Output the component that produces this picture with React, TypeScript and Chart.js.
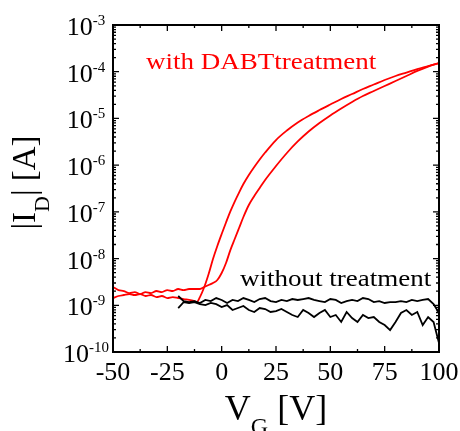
import React, { useEffect, useRef } from "react";
import { Chart, registerables } from "chart.js";

Chart.register(...registerables);

// ---- Data (V_G in volts, |I_D| in amperes) ----
const redAV = [
  -50, -47.5, -45, -42.5, -40, -37.5, -35, -32.5, -30, -27.5, -25, -22.5, -20, -17.5, -15, -12.5, -11.5,
  -10, -8, -6, -4, -2, 0, 2, 4, 6, 8, 10, 12.5, 15, 17.5, 20, 25, 30, 35, 40, 45, 50, 55, 60, 65, 70, 75,
  80, 85, 90, 95, 100,
];
const redAI = [
  1.43e-9, 1.58e-9, 1.66e-9, 1.74e-9, 1.66e-9, 1.74e-9, 1.58e-9, 1.66e-9, 1.5e-9, 1.58e-9, 1.43e-9, 1.5e-9,
  1.43e-9, 1.36e-9, 1.3e-9, 1.23e-9, 1.17e-9,
  1.5e-9, 2.46e-9, 4.67e-9, 9.77e-9, 1.86e-8, 3.36e-8, 5.92e-8, 1.02e-7, 1.66e-7, 2.59e-7, 3.94e-7, 6.15e-7,
  9.12e-7, 1.32e-6, 1.86e-6, 3.45e-6, 5.51e-6, 8.18e-6, 1.13e-5, 1.51e-5, 1.99e-5, 2.61e-5, 3.33e-5, 4.27e-5,
  5.32e-5, 6.65e-5, 8.1e-5, 9.61e-5, 1.14e-4, 1.32e-4, 1.53e-4,
];

const redBV = [
  -50, -47.5, -45, -42.5, -40, -37.5, -35, -32.5, -30, -27.5, -25, -22.5, -20, -17.5, -15, -12.5, -10,
  -8, -6, -4, -2, 0, 2, 4, 6, 8, 10, 12.5, 15, 17.5, 20, 25, 30, 35, 40, 45, 50, 55, 60, 65, 70, 75, 80,
  85, 90, 95, 100,
];
const redBI = [
  2.46e-9, 2.12e-9, 2.02e-9, 1.83e-9, 1.92e-9, 1.74e-9, 1.92e-9, 1.83e-9, 2.02e-9, 1.92e-9, 2.12e-9, 2.02e-9,
  2.23e-9, 2.12e-9, 2.23e-9, 2.23e-9, 2.23e-9,
  2.46e-9, 2.72e-9, 3.0e-9, 3.48e-9, 4.91e-9, 8.04e-9, 1.52e-8, 2.62e-8, 4.51e-8, 7.76e-8, 1.4e-7, 2.18e-7,
  3.24e-7, 4.81e-7, 9.57e-7, 1.82e-6, 3.21e-6, 5.25e-6, 7.98e-6, 1.16e-5, 1.63e-5, 2.25e-5, 3.02e-5,
  3.86e-5, 4.94e-5, 6.32e-5, 8.1e-5, 1.04e-4, 1.29e-4, 1.53e-4,
];

const blackV = [
  -20, -17.5, -15, -12.5, -10, -7.5, -5, -2.5, 0, 2.5, 5, 7.5, 10, 12.5, 15, 17.5, 20, 22.5, 25, 27.5, 30,
  32.5, 35, 37.5, 40, 42.5, 45, 47.5, 50, 52.5, 55, 57.5, 60, 62.5, 65, 67.5, 70, 72.5, 75, 77.5, 80, 82.5,
  85, 87.5, 90, 92.5, 95, 97.5, 100,
];
const blackUpperI = [
  1.58e-9, 1.23e-9, 1.17e-9, 1.23e-9, 1.12e-9, 1.3e-9, 1.23e-9, 1.43e-9, 1.3e-9, 1.12e-9, 1.3e-9, 1.23e-9,
  1.43e-9, 1.3e-9, 1.17e-9, 1.36e-9, 1.43e-9, 1.23e-9, 1.17e-9, 1.3e-9, 1.23e-9, 1.36e-9, 1.3e-9, 1.36e-9,
  1.43e-9, 1.3e-9, 1.23e-9, 1.17e-9, 1.36e-9, 1.3e-9, 1.12e-9, 1.23e-9, 1.3e-9, 1.23e-9, 1.43e-9, 1.36e-9,
  1.17e-9, 1.23e-9, 1.12e-9, 1.17e-9, 1.17e-9, 1.23e-9, 1.17e-9, 1.3e-9, 1.23e-9, 1.3e-9, 1.36e-9, 1.06e-9,
  6.83e-10,
];
const blackLowerI = [
  8.74e-10, 1.17e-9, 1.12e-9, 1.17e-9, 1.06e-9, 1.01e-9, 1.12e-9, 1.06e-9, 9.18e-10, 1.01e-9, 7.92e-10,
  8.74e-10, 9.64e-10, 7.92e-10, 7.18e-10, 8.74e-10, 8.32e-10, 7.18e-10, 7.54e-10, 8.32e-10, 7.18e-10,
  6.19e-10, 5.61e-10, 7.92e-10, 6.83e-10, 5.61e-10, 6.83e-10, 7.92e-10, 5.61e-10, 6.19e-10, 4.39e-10,
  7.18e-10, 5.34e-10, 4.39e-10, 6.19e-10, 5.34e-10, 5.61e-10, 4.39e-10, 3.78e-10, 2.95e-10, 4.39e-10,
  6.83e-10, 7.92e-10, 6.19e-10, 7.18e-10, 3.78e-10, 5.61e-10, 4.39e-10, 1.56e-10,
];

const xMajorTicks = [-50, -25, 0, 25, 50, 75, 100];
const xMinorTicks = [-37.5, -12.5, 12.5, 37.5, 62.5, 87.5];
const yExponents = [-3, -4, -5, -6, -7, -8, -9, -10];
const yMinorMultipliers = [2, 3, 4, 5, 6, 7, 8, 9];
const labelRed = "with DABTtreatment";
const labelBlack = "without treatment";

const FONT = '"Liberation Serif", "Times New Roman", serif';

function toPoints(v: number[], i: number[]) {
  return v.map((x, k) => ({ x, y: i[k] }));
}

const framePlugin = {
  id: "framePlugin",
  afterDraw(chart: any) {
    const { ctx, chartArea: a, scales } = chart;
    const xs = scales.x;
    const ys = scales.y;
    ctx.save();
    ctx.strokeStyle = "#000";
    ctx.fillStyle = "#000";

    // inward tick marks
    ctx.lineWidth = 1.3;
    ctx.beginPath();
    const vTick = (v: number, len: number) => {
      const px = xs.getPixelForValue(v);
      ctx.moveTo(px, a.bottom);
      ctx.lineTo(px, a.bottom - len);
      ctx.moveTo(px, a.top);
      ctx.lineTo(px, a.top + len);
    };
    const hTick = (val: number, len: number) => {
      const py = ys.getPixelForValue(val);
      ctx.moveTo(a.left, py);
      ctx.lineTo(a.left + len, py);
      ctx.moveTo(a.right, py);
      ctx.lineTo(a.right - len, py);
    };
    xMajorTicks.forEach((v) => vTick(v, 6));
    xMinorTicks.forEach((v) => vTick(v, 3));
    yExponents.forEach((e) => {
      hTick(Math.pow(10, e), 6);
      if (e > -10) {
        yMinorMultipliers.forEach((m) => hTick(m * Math.pow(10, e - 1), 3));
      }
    });
    ctx.stroke();

    // frame
    ctx.lineWidth = 2;
    ctx.strokeRect(a.left, a.top, a.right - a.left, a.bottom - a.top);

    // x tick labels
    ctx.font = `26px ${FONT}`;
    ctx.textAlign = "center";
    ctx.textBaseline = "alphabetic";
    xMajorTicks.forEach((v) => {
      ctx.fillText(String(v), xs.getPixelForValue(v), a.bottom + 28);
    });

    // y tick labels 10^e
    ctx.textAlign = "left";
    yExponents.forEach((e) => {
      const py = ys.getPixelForValue(Math.pow(10, e));
      ctx.font = `26px ${FONT}`;
      const wb = ctx.measureText("10").width;
      ctx.font = `15px ${FONT}`;
      const sup = String(e);
      const ws = ctx.measureText(sup).width;
      const start = 86 - (wb + ws) / 2;
      ctx.font = `26px ${FONT}`;
      ctx.fillText("10", start, py + 10);
      ctx.font = `15px ${FONT}`;
      ctx.fillText(sup, start + wb, py);
    });

    // x title: V_G [V]
    {
      const baseY = 420;
      ctx.font = `36px ${FONT}`;
      const w1 = ctx.measureText("V").width;
      const w3 = ctx.measureText(" [V]").width;
      ctx.font = `24px ${FONT}`;
      const w2 = ctx.measureText("G").width;
      const cx = (a.left + a.right) / 2;
      let x = cx - (w1 + w2 + w3) / 2;
      ctx.font = `36px ${FONT}`;
      ctx.fillText("V", x, baseY);
      x += w1;
      ctx.font = `24px ${FONT}`;
      ctx.fillText("G", x, baseY + 14);
      x += w2;
      ctx.font = `36px ${FONT}`;
      ctx.fillText(" [V]", x, baseY);
    }

    // y title: |I_D| [A]
    {
      ctx.save();
      ctx.translate(35, 182.5);
      ctx.rotate(-Math.PI / 2);
      ctx.font = `33px ${FONT}`;
      const w1 = ctx.measureText("|I").width;
      const w3 = ctx.measureText("| [A]").width;
      ctx.font = `22px ${FONT}`;
      const w2 = ctx.measureText("D").width;
      let x = -(w1 + w2 + w3) / 2;
      ctx.font = `33px ${FONT}`;
      ctx.fillText("|I", x, 0);
      x += w1;
      ctx.font = `22px ${FONT}`;
      ctx.fillText("D", x, 14);
      x += w2;
      ctx.font = `33px ${FONT}`;
      ctx.fillText("| [A]", x, 0);
      ctx.restore();
    }

    // annotations
    ctx.font = `24px ${FONT}`;
    ctx.save();
    ctx.translate(146, 69);
    ctx.scale(1.125, 1);
    ctx.fillStyle = "#ff0000";
    ctx.fillText(labelRed, 0, 0);
    ctx.restore();

    ctx.save();
    ctx.translate(240, 286);
    ctx.scale(1.125, 1);
    ctx.fillStyle = "#000";
    ctx.fillText(labelBlack, 0, 0);
    ctx.restore();

    ctx.restore();
  },
};

export default function App() {
  const canvasRef = useRef<HTMLCanvasElement | null>(null);

  useEffect(() => {
    const canvas = canvasRef.current;
    if (!canvas) return;
    const common = { pointRadius: 0, borderWidth: 1.8, fill: false };
    const chart = new Chart(canvas, {
      type: "line",
      data: {
        datasets: [
          { ...common, data: toPoints(blackV, blackUpperI), borderColor: "#000", tension: 0 },
          { ...common, data: toPoints(blackV, blackLowerI), borderColor: "#000", tension: 0 },
          {
            ...common,
            data: toPoints(redAV, redAI),
            borderColor: "#ff0000",
            cubicInterpolationMode: "monotone",
          },
          {
            ...common,
            data: toPoints(redBV, redBI),
            borderColor: "#ff0000",
            cubicInterpolationMode: "monotone",
          },
        ],
      },
      options: {
        animation: false,
        responsive: false,
        events: [],
        layout: { padding: { left: 113, right: 21, top: 25, bottom: 79 } },
        plugins: { legend: { display: false }, tooltip: { enabled: false } },
        scales: {
          x: { type: "linear", min: -50, max: 100, display: false },
          y: { type: "logarithmic", min: 1e-10, max: 1e-3, display: false },
        },
      },
      plugins: [framePlugin],
    } as any);
    return () => chart.destroy();
  }, []);

  return (
    <div style={{ position: "fixed", left: 0, top: 0, width: 460, height: 431, background: "#fff" }}>
      <canvas ref={canvasRef} width={460} height={431} style={{ display: "block" }} />
    </div>
  );
}
